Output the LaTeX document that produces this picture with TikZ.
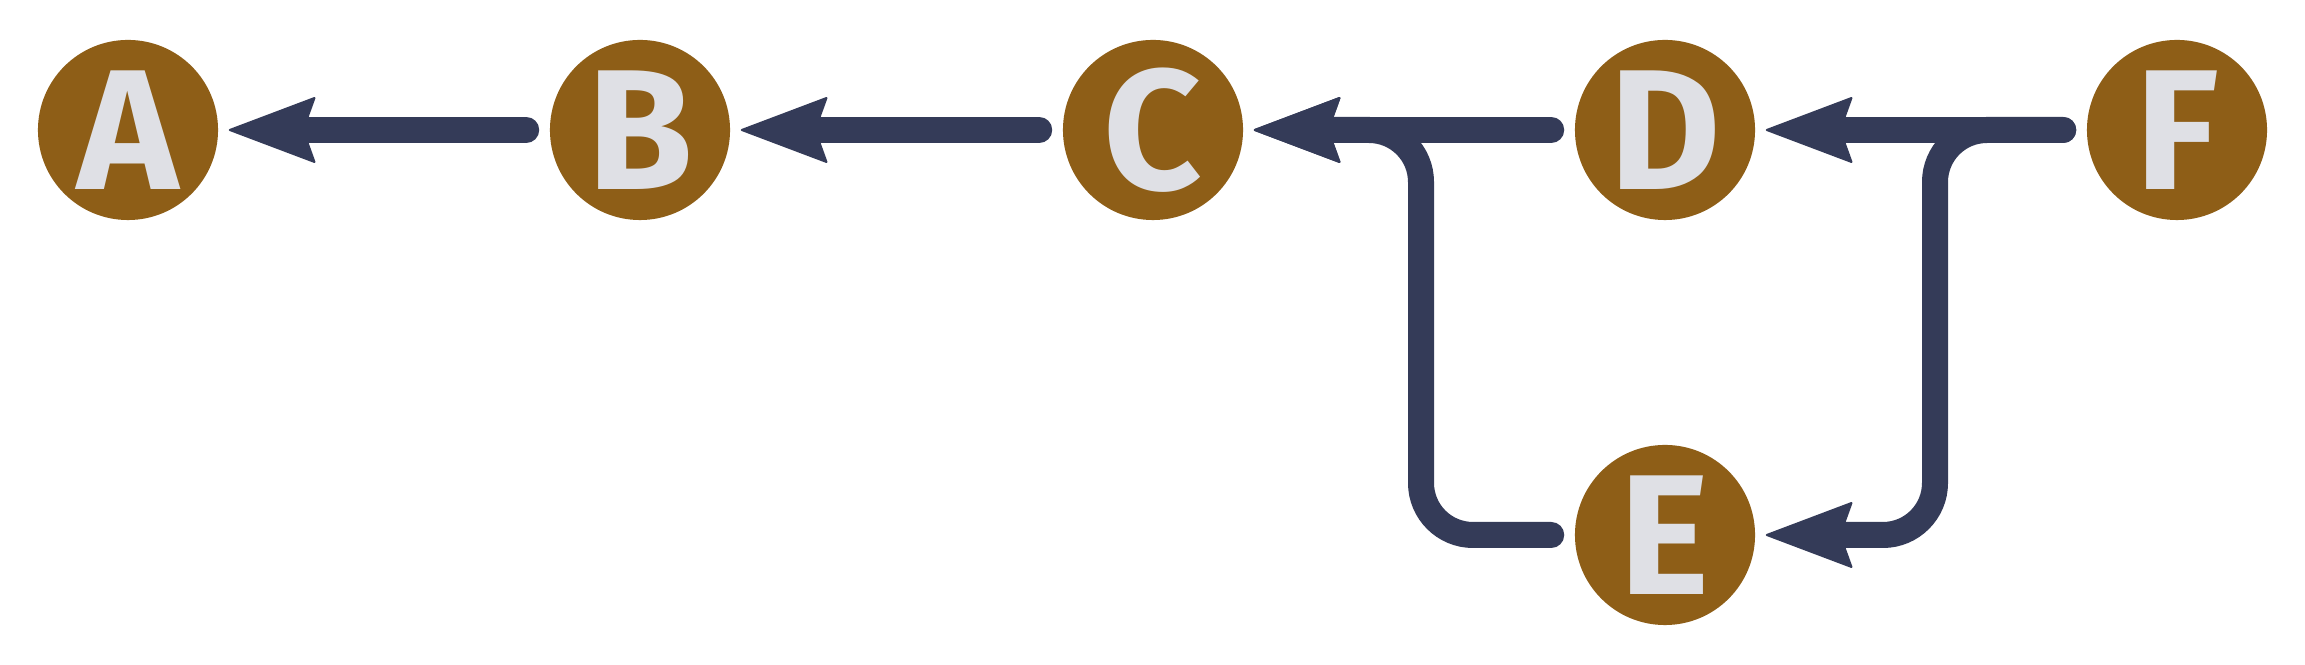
\documentclass[tikz,border=0pt]{standalone}
\usepackage{fontspec}
\setmainfont{Fira Sans}
\usetikzlibrary{arrows.meta}
\definecolor{nodefill}{RGB}{142,94,23}
\definecolor{lettercol}{RGB}{223,224,229}
\definecolor{linecol}{RGB}{52,59,88}
\begin{document}
\begin{tikzpicture}[x=0.01cm,y=-0.01cm,
  vtx/.style={circle, fill=nodefill, minimum size=1.8cm, inner sep=0pt, text=lettercol,
    font=\fontsize{48.7pt}{50pt}\selectfont\bfseries},
  conn/.style={draw=linecol, line width=0.26cm, line cap=round,
    shorten <=0.23cm, shorten >=0.10cm,
    -{Stealth[length=0.89cm,width=0.67cm,inset=0.12cm,round,line width=0.02cm]}},
  bent/.style={conn, rounded corners=0.52cm}
  ]
\fill[white] (0,0) rectangle (2305,665);
\useasboundingbox (0,0) rectangle (2305,665);
\node[vtx] (A) at (128,130) {A};
\node[vtx] (B) at (640,130) {B};
\node[vtx] (C) at (1153,130) {C};
\node[vtx] (D) at (1665,130) {D};
\node[vtx] (E) at (1665,535) {E};
\node[vtx] (F) at (2177,130) {F};
\coordinate (jc) at (1421,130);
\coordinate (jf) at (1935,535);
\draw[conn] (B) -- (A);
\draw[conn] (C) -- (B);
\draw[conn] (D) -- (C);
\draw[bent] (E.west) -| (jc) -- (C.east);
\draw[conn] (F) -- (D);
\draw[bent] (F.west) -| (jf) -- (E.east);
\end{tikzpicture}
\end{document}
